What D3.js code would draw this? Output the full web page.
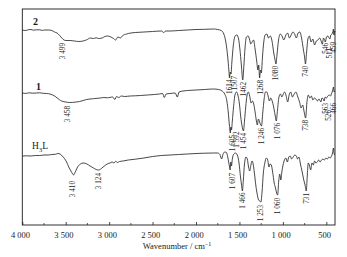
<!DOCTYPE html>
<html><head><meta charset="utf-8">
<script src="https://cdn.jsdelivr.net/npm/d3@7"></script>
<style>html,body{margin:0;padding:0;background:#fff;} svg{display:block;}</style>
</head><body>
<svg id="chart" width="347" height="257"></svg>
<script>
// ---------- data ----------
const xTicks = [4000,3500,3000,2500,2000,1500,1000,500];
const xTickLabels = ["4 000","3 500","3 000","2 500","2 000","1 500","1 000","500"];
const minorTicks = [3750,3250,2750,2250,1750,1250,750];
const seriesNames = ["2","1","H3L"];

// [wavenumber (cm-1), transmittance (a.u., offset)]
const spectrum2 = [[4000,195],[3960,194.5],[3930,195.3],[3900,195.5],[3870,194.8],[3840,195.2],[3800,195.2],[3770,194.6],[3740,195],[3700,195],[3660,194.5],[3630,193],[3600,192],[3570,189.5],[3545,187],[3520,185],[3499,184.5],[3450,184.5],[3400,184],[3350,183.5],[3300,184],[3250,185.5],[3220,187],[3180,186.5],[3150,187.2],[3120,186.5],[3080,187],[3050,188.5],[3020,189],[2980,188],[2950,186.5],[2925,185],[2900,188],[2870,187],[2850,189],[2800,191],[2750,192],[2700,192.5],[2600,193],[2500,193.5],[2400,194],[2370,192.5],[2350,194],[2300,194],[2200,194.5],[2100,195],[2000,195.5],[1900,195.7],[1800,196],[1750,195.5],[1710,194.5],[1680,191],[1655,182],[1635,168],[1622,155],[1614,147],[1606,153],[1597,151],[1588,162],[1570,180],[1550,189],[1530,190],[1510,186],[1495,176],[1478,160],[1462,145],[1450,158],[1435,178],[1420,188],[1400,189],[1385,186],[1370,181],[1355,183],[1338,185],[1320,176],[1300,163],[1288,155],[1278,160],[1268,147],[1258,155],[1248,152],[1235,168],[1220,183],[1205,190],[1185,191],[1165,187],[1145,189],[1125,184],[1105,172],[1090,165],[1080,161],[1068,170],[1050,185],[1030,191],[1010,189],[990,185],[965,190],[945,192],[925,187],[905,190],[885,193],[865,191],[845,187],[825,192],[805,193],[785,187],[765,176],[750,168],[740,161],[728,172],[712,186],[695,189],[675,183],[655,186],[635,180],[615,184],[595,185],[575,187],[560,184],[546,181],[532,187],[520,185],[511,183],[498,188],[482,189],[468,187],[459,186],[448,190],[435,191],[425,193],[418,196],[412,190],[405,194],[400,193]];

const spectrum1 = [[4000,132],[3960,131.6],[3920,132.2],[3880,131.8],[3840,132],[3800,132.2],[3760,131.7],[3720,131.5],[3680,131],[3650,130],[3620,128.5],[3590,126.5],[3560,124.5],[3530,123.5],[3500,123],[3458,122.5],[3420,122.6],[3380,123],[3340,123.5],[3300,124.5],[3260,125.5],[3220,126],[3180,126.3],[3140,126.7],[3100,127],[3060,127.5],[3020,127.2],[2990,127.6],[2960,128],[2935,125.5],[2915,128.5],[2890,127.5],[2860,129],[2820,128.5],[2760,129],[2700,129.2],[2640,129.5],[2560,130],[2480,130.5],[2420,131],[2385,131.5],[2365,127.5],[2345,131],[2300,131.5],[2240,132],[2215,128],[2195,133],[2150,134],[2100,134.5],[2000,135],[1900,135.5],[1800,136],[1740,135.5],[1700,134],[1670,131],[1645,124],[1628,112],[1616,100],[1605,92],[1599,98],[1592,95],[1582,104],[1568,118],[1552,130],[1535,133],[1518,130],[1500,121],[1485,108],[1470,99],[1454,94],[1442,104],[1428,118],[1412,130],[1398,133],[1382,129],[1366,122],[1350,124],[1336,121],[1320,113],[1305,104],[1294,100],[1282,106],[1268,103],[1255,100],[1246,99],[1232,112],[1216,126],[1200,133],[1185,133],[1170,129],[1155,124],[1140,127],[1120,123],[1102,116],[1088,109],[1076,104],[1062,115],[1045,128],[1028,131],[1012,128],[995,131],[980,133],[962,129],[945,123],[928,130],[910,133],[890,128],[870,131],[850,133],[828,128],[808,123],[790,117],[772,120],[755,113],[738,107],[724,122],[708,130],[690,127],[672,129],[655,125],[638,127],[620,126],[602,124],[585,126],[570,124],[563,123],[550,127],[535,126],[526,124],[512,128],[498,127],[482,129],[466,130],[452,129],[438,132],[428,134],[418,138],[410,133],[400,134]];

const spectrumH3L = [[4000,69],[3950,69.2],[3900,69],[3850,69.5],[3800,69.5],[3750,70],[3700,70],[3660,70.5],[3620,70.7],[3590,71.5],[3565,71],[3540,69],[3515,66.5],[3490,63],[3465,58],[3440,54],[3420,51],[3410,50],[3398,51.5],[3380,55],[3360,58.5],[3330,61],[3300,62],[3260,61.2],[3220,59],[3180,57],[3150,55.5],[3124,55],[3100,55.8],[3070,58],[3040,60],[3010,61.5],[2990,62],[2965,63],[2945,62],[2925,63.7],[2905,62.5],[2880,63.5],[2840,64],[2780,65],[2700,65.8],[2600,67],[2500,68.5],[2400,69.5],[2300,70],[2200,70.5],[2100,71],[2000,71.5],[1900,71.8],[1800,72],[1750,72],[1725,70.5],[1705,66],[1690,70.5],[1670,73],[1650,72.5],[1635,68],[1622,62],[1614,58],[1607,55],[1600,63],[1592,59],[1582,66],[1565,71],[1545,72],[1525,70],[1505,62],[1488,48],[1476,40],[1466,34],[1456,44],[1442,61],[1425,68],[1410,66],[1395,58],[1382,54],[1368,60],[1355,64],[1342,61],[1328,52],[1312,40],[1296,31],[1280,25],[1268,24],[1253,23],[1240,33],[1225,52],[1208,62],[1190,67],[1175,65],[1160,58],[1148,61],[1133,60],[1118,53],[1100,42],[1085,37],[1072,32],[1060,30],[1048,44],[1036,51],[1024,45],[1012,53],[998,60],[982,65],[965,67],[948,63],[932,68],[915,69],[900,66],[882,68],[862,70],[845,69],[830,66],[815,68],[798,61],[780,54],[762,46],[745,40],[731,34],[720,48],[708,62],[695,60],[680,55],[665,62],[650,60],[635,64],[620,62],[605,63],[588,65],[572,63],[555,65],[540,66],[522,65],[505,67],[488,66],[470,68],[455,67],[440,69],[428,72],[418,77],[410,71],[400,70]];

const peaks2 = [3499,1614,1597,1462,1268,1080,740,546,511,459];
const peakLabels2 = ["3 499","1614","1507","1462","1268","1080","740","546","511","459"];
const peaks1 = [3458,1605,1592,1454,1246,1076,738,563,526,466];
const peakLabels1 = ["3 458","1 605","1 592","1 454","1 246","1 076","738","563","526","466"];
const peaksH3L = [3410,3124,1607,1466,1253,1060,731];
const peakLabelsH3L = ["3 410","3 124","1 607","1 466","1 253","1 060","731"];

// ---------- layout (label nudges in px: [dx, dy]) ----------
const nudge2 = [[-2.8,2.5],[0,1.5],[3.6,2],[1,2],[0.6,2],[0,2],[0.5,2],[3.7,-1],[4,6],[3.7,3]];
const nudge1 = [[-1.4,3.5],[2,2],[5.2,1.5],[0,2],[0.5,2],[1,2],[0,2],[4.7,1],[4.5,9],[4.3,8]];
const nudgeH3L = [[-0.5,6],[0,3],[2,3],[0,1.5],[0,3],[0.3,3],[0,2]];

const svg = d3.select("#chart");
const L = 22.3, R = 335, T = 9, B = 225;
const x = d3.scaleLinear().domain([4000, 400]).range([L, R]);
const y = d3.scaleLinear().domain([0, 216]).range([B, T]);

const serif = "'Liberation Serif','Times New Roman',Times,serif";
const ink = "#1a1a1a";

// frame
svg.append("rect").attr("x", L).attr("y", T).attr("width", R - L).attr("height", B - T)
  .attr("fill", "none").attr("stroke", ink).attr("stroke-width", 0.9);

// bottom axis (ticks inward)
const axis = d3.axisBottom(x).tickValues(xTicks).tickSize(-3).tickFormat((d, i) => xTickLabels[i]).tickPadding(7);
const gx = svg.append("g").attr("transform", `translate(0,${B})`).call(axis);
gx.select(".domain").remove();
gx.selectAll(".tick line").attr("stroke", ink).attr("stroke-width", 0.8);
gx.selectAll(".tick text").attr("font-family", serif).attr("font-size", 8.5).attr("fill", ink).attr("dx", -2.3);
svg.append("g").selectAll("line").data(minorTicks).join("line")
  .attr("x1", d => x(d)).attr("x2", d => x(d)).attr("y1", B).attr("y2", B - 2)
  .attr("stroke", ink).attr("stroke-width", 0.7);

// axis title
const title = svg.append("text").attr("x", 177).attr("y", 249).attr("text-anchor", "middle")
  .attr("font-family", serif).attr("font-size", 8.5).attr("fill", ink);
title.append("tspan").text("Wavenumber / cm");
title.append("tspan").attr("font-size", 6).attr("dy", -3.5).text("\u22121");

// spectra
const line = d3.line().x(d => x(d[0])).y(d => y(d[1])).curve(d3.curveMonotoneX);
const spectra = [spectrum2, spectrum1, spectrumH3L];
svg.append("g").selectAll("path").data(spectra).join("path")
  .attr("d", line).attr("fill", "none").attr("stroke", ink).attr("stroke-width", 0.8)
  .attr("stroke-linejoin", "round");

// peak labels
function valueAt(series, wn) {
  const near = series.filter(d => Math.abs(d[0] - wn) <= 12);
  return d3.min(near, d => d[1]);
}
const peakSets = [
  [spectrum2, peaks2, peakLabels2, nudge2],
  [spectrum1, peaks1, peakLabels1, nudge1],
  [spectrumH3L, peaksH3L, peakLabelsH3L, nudgeH3L]
];
const gl = svg.append("g");
peakSets.forEach(([s, pk, lb, ng]) => {
  pk.forEach((wn, i) => {
    const px = x(wn) + ng[i][0];
    const py = y(valueAt(s, wn)) + ng[i][1];
    gl.append("text")
      .attr("transform", `translate(${px},${py}) rotate(-90)`)
      .attr("text-anchor", "end").attr("dy", "0.33em")
      .attr("font-family", serif).attr("font-size", 7.2).attr("fill", ink)
      .text(lb[i]);
  });
});

// series names
svg.append("text").attr("x", 33).attr("y", 25).attr("font-family", serif).attr("font-weight", "bold")
  .attr("font-size", 10).attr("fill", ink).text(seriesNames[0]);
svg.append("text").attr("x", 36).attr("y", 90).attr("font-family", serif).attr("font-weight", "bold")
  .attr("font-size", 10).attr("fill", ink).text(seriesNames[1]);
const h = svg.append("text").attr("x", 32).attr("y", 149).attr("font-family", serif)
  .attr("font-size", 9.5).attr("fill", ink);
h.append("tspan").text(seriesNames[2][0]);
h.append("tspan").attr("font-size", 6.5).attr("dy", 2.5).text(seriesNames[2][1]);
h.append("tspan").attr("dy", -2.5).text(seriesNames[2][2]);
</script>
</body></html>
